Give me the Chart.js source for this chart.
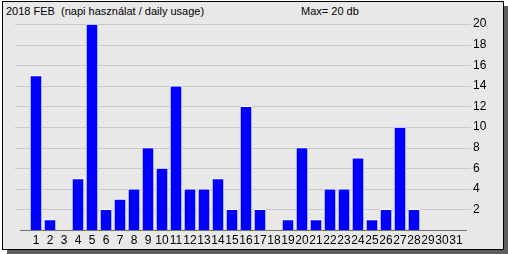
<!DOCTYPE html>
<html>
<head>
<meta charset="utf-8">
<script src="https://cdn.jsdelivr.net/npm/chart.js@4"></script>
<style>
  html, body { margin: 0; padding: 0; background: #fff; }
  body { width: 508px; height: 254px; position: relative; overflow: hidden; }
  .frame {
    position: absolute; left: 2px; top: 1px; width: 500px; height: 247px;
    border: 1px solid #000; background: #e8e8e8;
    box-shadow: 5px 5px 0 #5e5e5e;
  }
  .label {
    position: absolute; font: 11px "Liberation Sans", Arial, sans-serif;
    color: #000; white-space: pre; line-height: 14px;
  }
  #chart { position: absolute; left: 0; top: 0; }
</style>
</head>
<body>
<div class="frame"></div>
<div class="label" style="left:6px; top:4px;">2018 FEB  (napi használat / daily usage)</div>
<div class="label" style="left:301px; top:4px;">Max= 20 db</div>
<canvas id="chart" width="508" height="254"></canvas>
<script>
// days of month
const days = ['1','2','3','4','5','6','7','8','9','10','11','12','13','14','15','16',
  '17','18','19','20','21','22','23','24','25','26','27','28','29','30','31'];
// daily usage counts
const usage = [15, 1, 0, 5, 20, 2, 3, 4, 8, 6, 14, 4, 4, 5, 2, 12,
  2, 0, 1, 8, 1, 4, 4, 7, 1, 2, 10, 2, 0, 0, 0];
const yTicks = [2, 4, 6, 8, 10, 12, 14, 16, 18, 20];

// gridlines run a bit wider than the bar area, like the original
const gridPlugin = {
  id: 'gridLines',
  beforeDatasetsDraw(chart) {
    const ctx = chart.ctx;
    const y = chart.scales.y;
    ctx.save();
    ctx.lineWidth = 1;
    ctx.strokeStyle = '#c8c8c8';
    yTicks.forEach(v => {
      const py = Math.round(y.getPixelForValue(v)) + 0.5;
      ctx.beginPath();
      ctx.moveTo(15, py);
      ctx.lineTo(471, py);
      ctx.stroke();
    });
    ctx.strokeStyle = '#707070';
    const py0 = Math.round(y.getPixelForValue(0)) + 0.5;
    ctx.beginPath();
    ctx.moveTo(20, py0);
    ctx.lineTo(467, py0);
    ctx.stroke();
    ctx.restore();
  }
};

const ctx = document.getElementById('chart').getContext('2d');
new Chart(ctx, {
  type: 'bar',
  data: {
    labels: days,
    datasets: [{
      data: usage,
      backgroundColor: '#0000ff',
      borderColor: '#ffffff',
      borderWidth: 1,
      barThickness: 12
    }]
  },
  options: {
    responsive: false,
    animation: false,
    layout: { padding: { left: 29, top: 24, right: 0, bottom: 0 } },
    plugins: {
      legend: { display: false },
      tooltip: { enabled: false }
    },
    scales: {
      x: {
        grid: { display: false, drawTicks: false },
        border: { display: false },
        ticks: {
          color: '#000',
          font: { family: 'Liberation Sans', size: 12 },
          padding: 3,
          autoSkip: false,
          maxRotation: 0
        },
        afterFit(scale) { scale.height = 24; }
      },
      y: {
        position: 'right',
        min: 0,
        max: 20,
        grid: { display: false, drawTicks: true, tickLength: 8 },
        border: { display: false },
        ticks: {
          stepSize: 2,
          color: '#000',
          padding: 2,
          font: { family: 'Liberation Sans', size: 12 },
          callback: v => (v === 0 ? '' : v)
        },
        afterFit(scale) { scale.width = 45; }
      }
    }
  },
  plugins: [gridPlugin]
});
</script>
</body>
</html>
